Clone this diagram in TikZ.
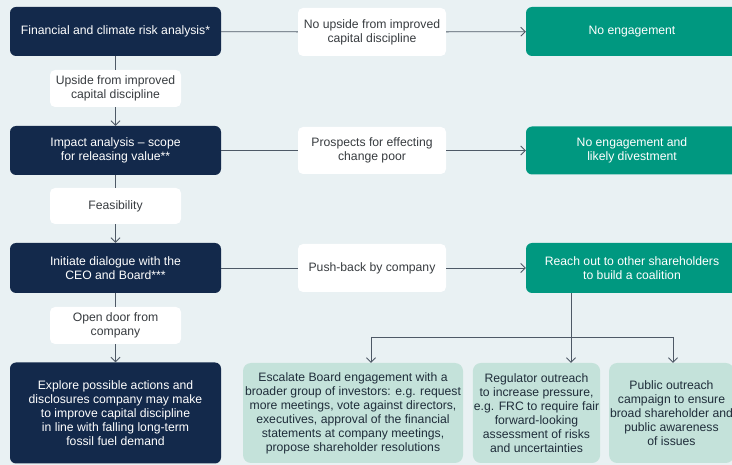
\documentclass[tikz,border=0pt]{standalone}
\usepackage{fontspec}
\setmainfont{Liberation Sans}
\usetikzlibrary{arrows.meta}
\definecolor{bgc}{HTML}{E9F1F3}
\definecolor{navy}{HTML}{13294B}
\definecolor{teal}{HTML}{009880}
\definecolor{pale}{HTML}{C4E2DA}
\definecolor{linec}{HTML}{4E5966}
\definecolor{labtext}{HTML}{383C40}
\definecolor{paletext}{HTML}{1F2D3A}
\tikzset{
  base/.style={align=center, inner sep=1pt, font=\fontsize{12.2}{14}\selectfont},
  darkbox/.style={base, fill=navy, text=white, rounded corners=6pt},
  tealbox/.style={base, fill=teal, text=white, rounded corners=6pt},
  palebox/.style={base, fill=pale, text=paletext, rounded corners=8pt},
  labelbox/.style={base, fill=white, text=labtext, rounded corners=5pt},
  conn/.style={draw=linec, line width=0.8pt},
  arr/.style={conn, -{Straight Barb[length=4.5pt,width=9pt]}}
}
\begin{document}
\begin{tikzpicture}[x=1pt,y=-1pt]
\useasboundingbox (0,0) rectangle (732,465);
\clip (0,0) rectangle (732,465);
\fill[bgc] (0,0) rectangle (732,465);

% row 1
\node[darkbox, minimum width=211pt, minimum height=49pt] (d1) at (115.5,31.5) {Financial and climate risk analysis*};
\node[labelbox, minimum width=148pt, minimum height=48pt] (l1) at (372,32) {No upside from improved\\capital discipline};
\node[tealbox, minimum width=212pt, minimum height=49pt] (g1) at (632,31.5) {No engagement};
\node[labelbox, minimum width=131pt, minimum height=37pt] (v1) at (115.5,88.5) {Upside from improved\\capital discipline};

% row 2
\node[darkbox, minimum width=211pt, minimum height=49pt] (d2) at (115.5,150.5) {Impact analysis -- scope\\for releasing value**};
\node[labelbox, minimum width=148pt, minimum height=47pt] (l2) at (372,150.5) {Prospects for effecting\\change poor};
\node[tealbox, minimum width=212pt, minimum height=48pt] (g2) at (632,150.5) {No engagement and\\likely divestment};
\node[labelbox, minimum width=131pt, minimum height=36pt] (v2) at (115.5,206) {Feasibility};

% row 3
\node[darkbox, minimum width=211pt, minimum height=50pt] (d3) at (115.5,268) {Initiate dialogue with the\\CEO and Board***};
\node[labelbox, minimum width=148pt, minimum height=48pt] (l3) at (372,268) {Push-back by company};
\node[tealbox, minimum width=212pt, minimum height=50pt] (g3) at (632,268) {Reach out to other shareholders\\to build a coalition};
\node[labelbox, minimum width=131pt, minimum height=37pt] (v3) at (115.5,325.5) {Open door from\\company};

% row 4
\node[darkbox, minimum width=211pt, minimum height=101pt] (d4) at (115.5,413) {Explore possible actions and\\disclosures company may make\\to improve capital discipline\\in line with falling long-term\\fossil fuel demand};
\node[palebox, minimum width=220pt, minimum height=100pt] (pa) at (353,413) {Escalate Board engagement with a\\broader group of investors: e.g. request\\more meetings, vote against directors,\\executives, approval of the financial\\statements at company meetings,\\propose shareholder resolutions};
\node[palebox, minimum width=125pt, minimum height=100pt] (pb) at (536.5,413) {Regulator outreach\\to increase pressure,\\e.g. FRC to require fair\\forward-looking\\assessment of risks\\and uncertainties};
\node[palebox, minimum width=124pt, minimum height=100pt] (pc) at (671.5,413) {Public outreach\\campaign to ensure\\broad shareholder and\\public awareness\\of issues};

% connectors
\draw[conn] (d1) -- (l1);
\draw[arr] (l1) -- (g1);
\draw[conn] (d2) -- (l2);
\draw[arr] (l2) -- (g2);
\draw[conn] (d3) -- (l3);
\draw[arr] (l3) -- (g3);

\draw[conn] (d1) -- (v1);
\draw[arr] (v1) -- (d2);
\draw[conn] (d2) -- (v2);
\draw[arr] (v2) -- (d3);
\draw[conn] (d3) -- (v3);
\draw[arr] (v3) -- (d4);

\coordinate (j) at (571,337);
\coordinate (jl) at (371,337);
\coordinate (jr) at (673,337);
\draw[conn] (g3.south -| j) -- (j);
\draw[conn] (jl) -- (jr);
\draw[arr] (jl) -- (jl |- pa.north);
\draw[arr] (j) -- (j |- pb.north);
\draw[arr] (jr) -- (jr |- pc.north);
\end{tikzpicture}
\end{document}
